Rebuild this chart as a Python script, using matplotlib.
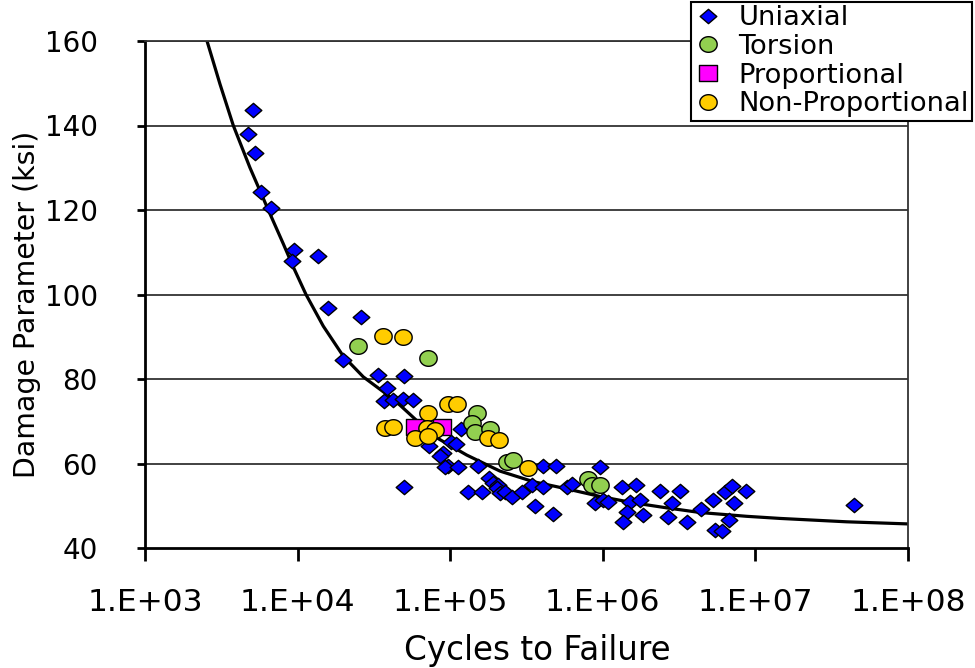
import numpy as np
import matplotlib
matplotlib.use("Agg")
import matplotlib.pyplot as plt
from matplotlib.path import Path
from matplotlib.ticker import FixedLocator, FuncFormatter, NullLocator

plt.rcParams['font.family'] = ['DejaVu Sans']

# ---- data -------------------------------------------------------------
uni_cycles = [5102, 4732, 5258, 5757, 6693, 9471, 9190, 13600, 15820, 26030,
              19840, 33640, 49800, 38530, 36830, 42190, 49060, 57060, 117700, 101200,
              109200, 72620, 89730, 85740, 96730, 92460, 112500, 152100, 49800, 130800,
              161600, 179600, 190800, 205800, 202700, 212000, 228600, 254100, 295400, 343600,
              359500, 405600, 405600, 493400, 471600, 582700, 628400, 959000, 889000, 1003000,
              1082000, 1336000, 1651000, 1508000, 1441000, 1356000, 1753000, 1834000, 2371000, 3205000,
              2841000, 2675000, 3563000, 4400000, 5275000, 6322000, 7027000, 7242000, 8677000, 6714000,
              5437000, 6043000, 44270000]
uni_param = [143.7, 138.0, 133.5, 124.3, 120.5, 110.5, 107.9, 109.1, 96.8, 94.7,
             84.5, 80.9, 80.7, 77.9, 74.8, 75.0, 75.3, 75.0, 68.2, 65.1,
             64.6, 64.1, 62.5, 61.8, 59.4, 59.2, 59.2, 59.4, 54.4, 53.3,
             53.3, 56.6, 55.4, 54.9, 54.2, 53.0, 53.3, 52.1, 53.3, 54.9,
             49.9, 54.4, 59.4, 59.4, 48.0, 54.4, 55.1, 59.2, 50.7, 51.4,
             50.9, 54.4, 54.9, 50.9, 48.5, 46.2, 51.4, 47.8, 53.5, 53.5,
             50.7, 47.3, 46.2, 49.2, 51.4, 53.3, 54.7, 50.7, 53.5, 46.6,
             44.3, 44.0, 50.2]

tor_cycles = [24760, 71200, 150500, 138300, 145400, 182400, 234600, 259200,
              803500, 845600, 959000]
tor_param = [87.9, 85.0, 71.9, 69.7, 67.5, 68.1, 60.4, 60.8, 56.3, 54.9, 54.9]

prop_cycles = [58800, 88000]
prop_param = [68.7, 68.7]

nonprop_cycles = [36120, 49280, 97180, 110300, 71200, 37390, 42370, 70150,
                  79510, 58800, 71200, 177700, 209800, 325000]
nonprop_param = [90.2, 90.0, 74.2, 74.2, 71.9, 68.5, 68.6, 68.3,
                 67.9, 66.0, 66.5, 66.0, 65.6, 58.9]

fit_cycles = [2549, 3100, 3790, 4875, 6427, 8058, 9372, 11350, 14740, 19930,
              26950, 40320, 46880, 53150, 77150, 128300, 212000, 350400, 580000,
              959000, 1585000, 2623000, 4335000, 8770000, 14500000, 39660000, 100000000]
fit_param = [160, 149.8, 140, 130.0, 120, 112.0, 106.5, 100, 92.5, 85.4,
             80.5, 75.8, 73.8, 72.0, 66.6, 62.0, 58.2, 55.7, 54.0,
             52.2, 50.7, 49.5, 48.4, 47.5, 47.0, 46.2, 45.7]

x_ticks = [1e3, 1e4, 1e5, 1e6, 1e7, 1e8]
y_ticks = [40, 60, 80, 100, 120, 140, 160]

# ---- marker shapes (slightly wider than tall) -------------------------
diamond = Path([(-1, 0), (0, 0.86), (1, 0), (0, -0.86), (-1, 0)],
               [Path.MOVETO, Path.LINETO, Path.LINETO, Path.LINETO, Path.CLOSEPOLY])
t = np.linspace(0, 2 * np.pi, 61)
ellipse = Path(np.column_stack([np.cos(t), 0.9 * np.sin(t)]))
square = Path([(-1, -0.9), (1, -0.9), (1, 0.9), (-1, 0.9), (-1, -0.9)],
              [Path.MOVETO, Path.LINETO, Path.LINETO, Path.LINETO, Path.CLOSEPOLY])

# ---- figure -----------------------------------------------------------
fig = plt.figure(figsize=(9.75, 6.68), dpi=100)
ax = fig.add_axes([145 / 975, 1 - 548 / 668, (908 - 145) / 975, (548 - 41) / 668])

ax.set_xscale('log')
ax.set_xlim(1e3, 1e8)
ax.set_ylim(40, 160)

ax.plot(fit_cycles, fit_param, color='black', lw=2.3, zorder=2)

common = dict(linestyle='none', markeredgecolor='black', markeredgewidth=1.0, zorder=3)
ax.plot(uni_cycles, uni_param, marker=diamond, markersize=12,
        markerfacecolor='#0000FF', label='Uniaxial', **common)
ax.plot(tor_cycles, tor_param, marker=ellipse, markersize=12.5,
        markerfacecolor='#92D050', label='Torsion', **common)
ax.plot(prop_cycles, prop_param, marker=square, markersize=12.5,
        markerfacecolor='#FF00FF', label='Proportional', **common)
ax.plot(nonprop_cycles, nonprop_param, marker=ellipse, markersize=12.5,
        markerfacecolor='#FFCC00', label='Non-Proportional', **common)

# gridlines
for yv in y_ticks[1:]:
    ax.axhline(yv, color='#333333', lw=1.3, zorder=1)

# axes frame
for side in ['left', 'bottom']:
    ax.spines[side].set_linewidth(2.0)
    ax.spines[side].set_color('black')
for side in ['top', 'right']:
    ax.spines[side].set_linewidth(1.3)
    ax.spines[side].set_color('#333333')

ax.xaxis.set_major_locator(FixedLocator(x_ticks))
ax.xaxis.set_minor_locator(NullLocator())
ax.xaxis.set_major_formatter(FuncFormatter(lambda v, p: "1.E+%02d" % int(round(np.log10(v)))))
ax.yaxis.set_major_locator(FixedLocator(y_ticks))
ax.tick_params(axis='x', direction='out', length=9, width=2, labelsize=22.5, pad=20)
ax.tick_params(axis='y', direction='out', length=6, width=2, labelsize=20, pad=28)

ax.set_xlabel('Cycles to Failure', fontsize=23.5)
ax.set_ylabel('Damage Parameter (ksi)', fontsize=20.4)
ax.xaxis.set_label_coords((537 - 145) / 763, (548 - 634) / 507)
ax.yaxis.set_label_coords((41 - 145) / 763, (548 - 304) / 507)

leg = fig.legend(loc='upper right', bbox_to_anchor=(972 / 975, 1 - 2 / 668),
                 fontsize=19.7, frameon=True, fancybox=False, framealpha=1,
                 edgecolor='black', borderpad=0.12, labelspacing=0.1,
                 handlelength=1.0, handletextpad=0.6, borderaxespad=0.0)
leg.get_frame().set_linewidth(1.5)

fig.savefig('out.png', dpi=100)
